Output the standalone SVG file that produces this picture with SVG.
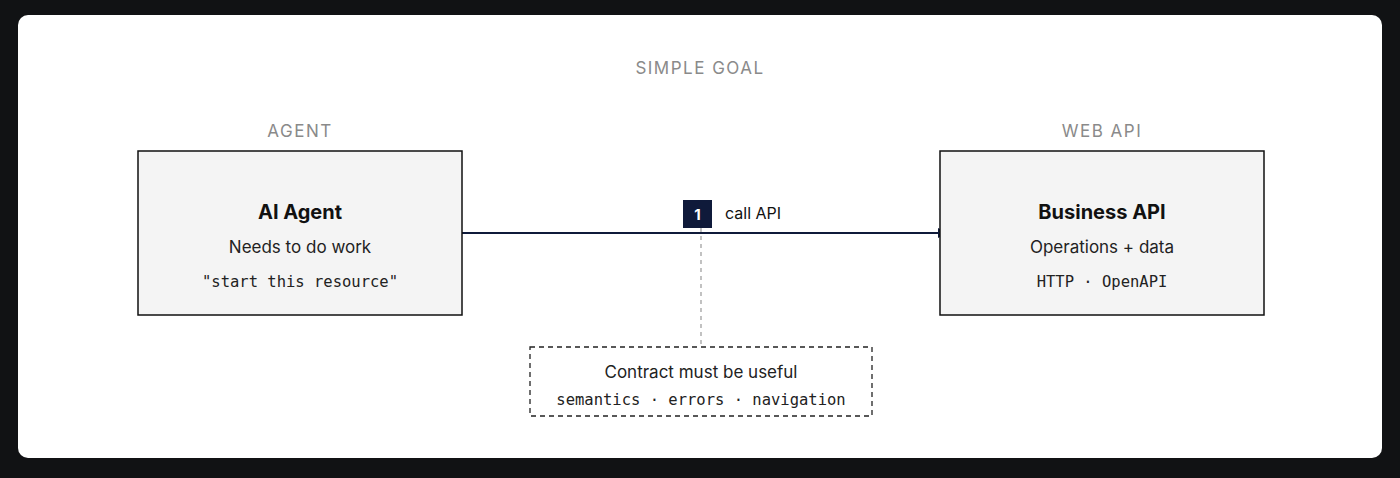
<svg xmlns="http://www.w3.org/2000/svg" width="1400" height="478" viewBox="0 0 1400 478">
<style>
.lbl{font-family:Inter,"Liberation Sans",sans-serif;font-size:17px;fill:#8a8a8a;letter-spacing:1.5px;text-anchor:middle}
.box{fill:#f4f4f4;stroke:#111;stroke-width:1.5}
.t{font-family:Inter,"Liberation Sans",sans-serif;font-size:20px;font-weight:700;fill:#111;text-anchor:middle}
.s{font-family:Inter,"Liberation Sans",sans-serif;font-size:17px;fill:#222;text-anchor:middle}
.m{font-family:"DejaVu Sans Mono","Liberation Mono",monospace;font-size:15.5px;fill:#222;text-anchor:middle}
</style>
<defs><marker id="ah" markerWidth="10" markerHeight="10" refX="9" refY="5" orient="auto" markerUnits="userSpaceOnUse"><path d="M0,0 L10,5 L0,10Z" fill="#0f1a3a"/></marker></defs>
<rect width="1400" height="478" fill="#111214"/>
<rect x="18" y="15" width="1364" height="443" rx="10" fill="#fff"/>
<text class="lbl" x="700" y="74">SIMPLE GOAL</text>
<text class="lbl" x="300" y="137">AGENT</text>
<text class="lbl" x="1102" y="137">WEB API</text>
<g id="connectors">
<line x1="462" y1="233" x2="947" y2="233" stroke="#0f1a3a" stroke-width="2" marker-end="url(#ah)"/>
<line x1="701" y1="228" x2="701" y2="347" stroke="#999" stroke-width="1.2" stroke-dasharray="4,4"/>
<rect x="683" y="200" width="29" height="28" fill="#0f1a3a"/>
<text x="697.5" y="220" font-family="Inter,'Liberation Sans',sans-serif" font-size="15" font-weight="700" fill="#fff" text-anchor="middle">1</text>
<text x="725" y="219" font-family="Inter,'Liberation Sans',sans-serif" font-size="16" fill="#111">call API</text>
</g>
<g id="agent">
<rect class="box" x="138" y="151" width="324" height="164"/>
<text class="t" x="300" y="219">AI Agent</text>
<text class="s" x="300" y="253">Needs to do work</text>
<text class="m" x="300" y="287">"start this resource"</text>
</g>
<g id="api">
<rect class="box" x="940" y="151" width="324" height="164"/>
<text class="t" x="1102" y="219">Business API</text>
<text class="s" x="1102" y="253">Operations + data</text>
<text class="m" x="1102" y="287">HTTP · OpenAPI</text>
</g>
<g id="contract">
<rect x="530" y="347" width="342" height="69" fill="#fff" stroke="#222" stroke-width="1.3" stroke-dasharray="5,4"/>
<text class="s" x="701" y="378">Contract must be useful</text>
<text class="m" x="701" y="405">semantics · errors · navigation</text>
</g>
</svg>
